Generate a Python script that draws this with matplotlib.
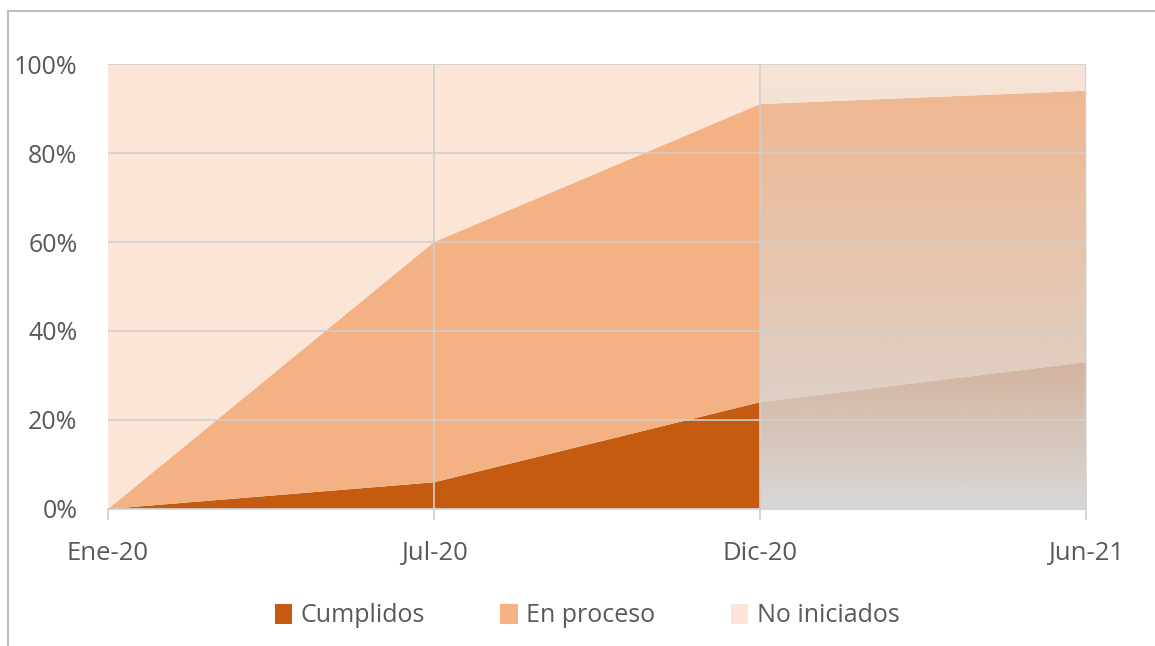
import numpy as np
import matplotlib
matplotlib.use("Agg")
import matplotlib.pyplot as plt
from matplotlib.patches import Patch
from matplotlib.lines import Line2D

# data (share of total, stacked)
categories = ["Ene-20", "Jul-20", "Dic-20", "Jun-21"]
cumplidos = [0.00, 0.06, 0.24, 0.33]
en_proceso = [0.00, 0.54, 0.67, 0.61]
no_iniciados = [1.00, 0.40, 0.09, 0.06]
series_names = ["Cumplidos", "En proceso", "No iniciados"]
colors = ["#C55A11", "#F4B183", "#FBE5D6"]
yticks = [0, 0.2, 0.4, 0.6, 0.8, 1.0]

plt.rcParams['font.family'] = ['Open Sans', 'DejaVu Sans']
txt = "#595959"
grid_c = "#CFCFCF"

fig = plt.figure(figsize=(11.55, 6.46), dpi=100)
ax = fig.add_axes([0.0935, 0.2121, 0.8468, 0.6888])

x = np.arange(len(categories))
ax.stackplot(x, cumplidos, en_proceso, no_iniciados, colors=colors,
             linewidth=0, zorder=1)

# faded projection zone after Dic-20
n = 256
grad = np.zeros((n, 2, 4))
grad[..., :3] = np.array([217, 217, 217]) / 255.0
grad[..., 3] = np.linspace(0.12, 1.0, n)[:, None]
ax.imshow(grad, extent=(x[2], x[3], 0, 1), aspect='auto', zorder=1.5,
          interpolation='bilinear')

ax.set_xlim(x[0], x[-1])
ax.set_ylim(0, 1)
ax.set_xticks(x)
ax.set_xticklabels(categories)
ax.set_yticks(yticks)
ax.set_yticklabels([f"{int(round(v * 100))}%" for v in yticks])

ax.grid(True, color=grid_c, linewidth=1.2, zorder=3)
gl = ax.xaxis.get_gridlines()
gl[0].set_visible(False)
ax.set_axisbelow(False)

for s in ["top", "right", "left"]:
    ax.spines[s].set_visible(False)
ax.spines["bottom"].set_color(grid_c)
ax.spines["bottom"].set_linewidth(1.2)

ax.tick_params(axis='x', length=8, color=grid_c, width=1.2, pad=15,
               labelsize=18.5, labelcolor=txt)
ax.tick_params(axis='y', length=0, pad=22, labelsize=18, labelcolor=txt)

handles = [Patch(facecolor=c, edgecolor='none') for c in colors]
fig.legend(handles, series_names, loc='center',
           bbox_to_anchor=(587 / 1155, 1 - 616 / 646), ncol=3, frameon=False,
           fontsize=18, labelcolor=txt, handlelength=0.7, handleheight=0.85,
           handletextpad=0.35, columnspacing=3.0)

# outer chart border (left and top edges visible)
fig.add_artist(Line2D([8 / 1155, 8 / 1155], [0, 1 - 11 / 646],
                      transform=fig.transFigure, color="#BFBFBF", linewidth=1.5))
fig.add_artist(Line2D([8 / 1155, 1], [1 - 11 / 646, 1 - 11 / 646],
                      transform=fig.transFigure, color="#BFBFBF", linewidth=1.5))

fig.savefig("out.png", dpi=100)
